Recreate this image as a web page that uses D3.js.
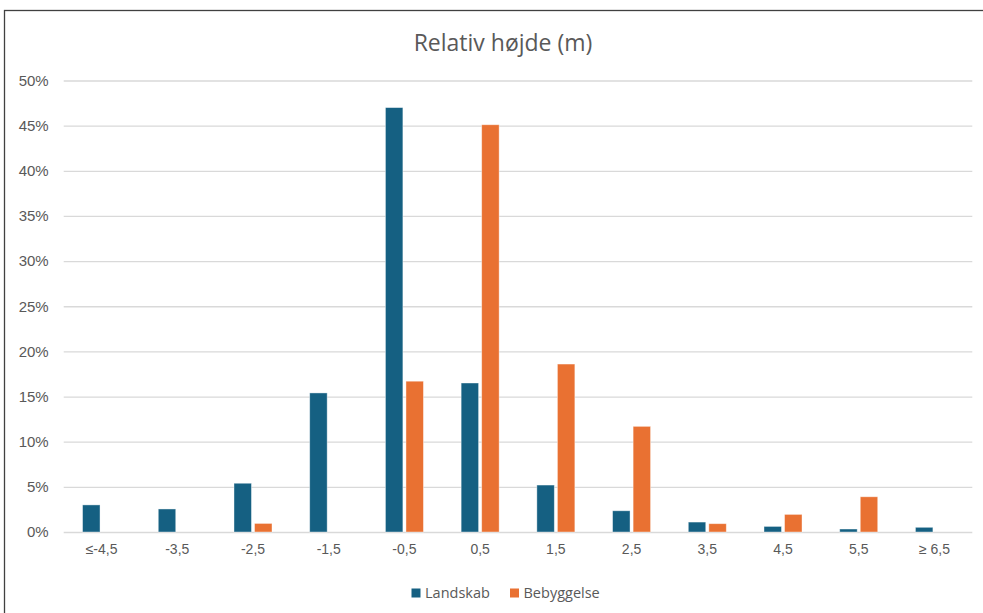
<!DOCTYPE html>
<html><head><meta charset="utf-8">
<script src="https://cdn.jsdelivr.net/npm/d3@7"></script>
<style>body{margin:0;background:#fff;}svg{display:block;font-family:"Open Sans","Noto Sans",sans-serif;}</style>
</head><body>
<svg id="c" width="983" height="613"></svg>
<script>
const categories = ["≤-4,5","-3,5","-2,5","-1,5","-0,5","0,5","1,5","2,5","3,5","4,5","5,5","≥ 6,5"];
const landskab   = [3.0, 2.55, 5.4, 15.4, 47.0, 16.5, 5.2, 2.35, 1.1, 0.62, 0.33, 0.52];
const bebyggelse = [0, 0, 0.95, 0, 16.7, 45.1, 18.6, 11.7, 0.92, 1.95, 3.9, 0];
const seriesNames = ["Landskab","Bebyggelse"];
const colors = ["#156082","#E97132"];
const yTicks = [0,5,10,15,20,25,30,35,40,45,50];
const title = "Relativ højde (m)";

(function(){
const svg = d3.select("#c");
const pLeft = 63.7, pRight = 972.3, pTop = 80.5, pBottom = 532;
svg.append("rect").attr("x",4.5).attr("y",10.5).attr("width",1000).attr("height",700)
  .attr("fill","#fff").attr("stroke","#404040").attr("stroke-width",1.3);

const x = d3.scaleBand().domain(categories).range([pLeft,pRight]).paddingInner(0).paddingOuter(0);
const bw = x.bandwidth();
const x1 = d3.scaleBand().domain(seriesNames).range([bw/2 - 19, bw/2 + 19]).paddingInner(0.15).paddingOuter(0);
const y = d3.scaleLinear().domain([0,50]).range([pBottom,pTop]);

const grid = svg.append("g").attr("transform",`translate(${pLeft},0)`)
  .call(d3.axisLeft(y).tickValues(yTicks).tickSize(-(pRight-pLeft)).tickFormat(d=>d+"%"));
grid.select(".domain").remove();
grid.selectAll(".tick line").attr("stroke","#d9d9d9").attr("stroke-width",1.3);
grid.selectAll(".tick text").attr("x",-15).attr("fill","#595959")
  .attr("font-family","'Liberation Sans',Arial,sans-serif").attr("font-size","15px");

const data = categories.map((c,i)=>({c, vals:[landskab[i],bebyggelse[i]]}));
const g = svg.append("g");
data.forEach(d=>{
  d.vals.forEach((v,j)=>{
    if(v<=0) return;
    g.append("rect")
      .attr("x", x(d.c)+x1(seriesNames[j]))
      .attr("width", x1.bandwidth())
      .attr("y", y(v))
      .attr("height", y(0)-y(v))
      .attr("fill", colors[j])
      .attr("stroke","#fff").attr("stroke-opacity",0.5).attr("stroke-width",0.8);
  });
});

const xa = svg.append("g").attr("transform",`translate(0,${pBottom})`)
  .call(d3.axisBottom(x).tickSize(0));
xa.select(".domain").remove();
xa.selectAll(".tick text").attr("y",22).attr("dy",0).attr("fill","#595959")
  .attr("font-family","'Liberation Sans',Arial,sans-serif").attr("font-size","14px");

svg.append("text").attr("x",503).attr("y",51).attr("text-anchor","middle")
  .attr("fill","#595959").attr("font-size","23px").text(title);

const leg = svg.append("g");
const legX = [411.5, 510];
seriesNames.forEach((s,i)=>{
  leg.append("rect").attr("x",legX[i]).attr("y",588.5).attr("width",9).attr("height",9).attr("fill",colors[i]);
  leg.append("text").attr("x",legX[i]+13.5).attr("y",598).attr("fill","#595959").attr("font-size","14.5px").text(s);
});
})();
</script>
</body></html>
